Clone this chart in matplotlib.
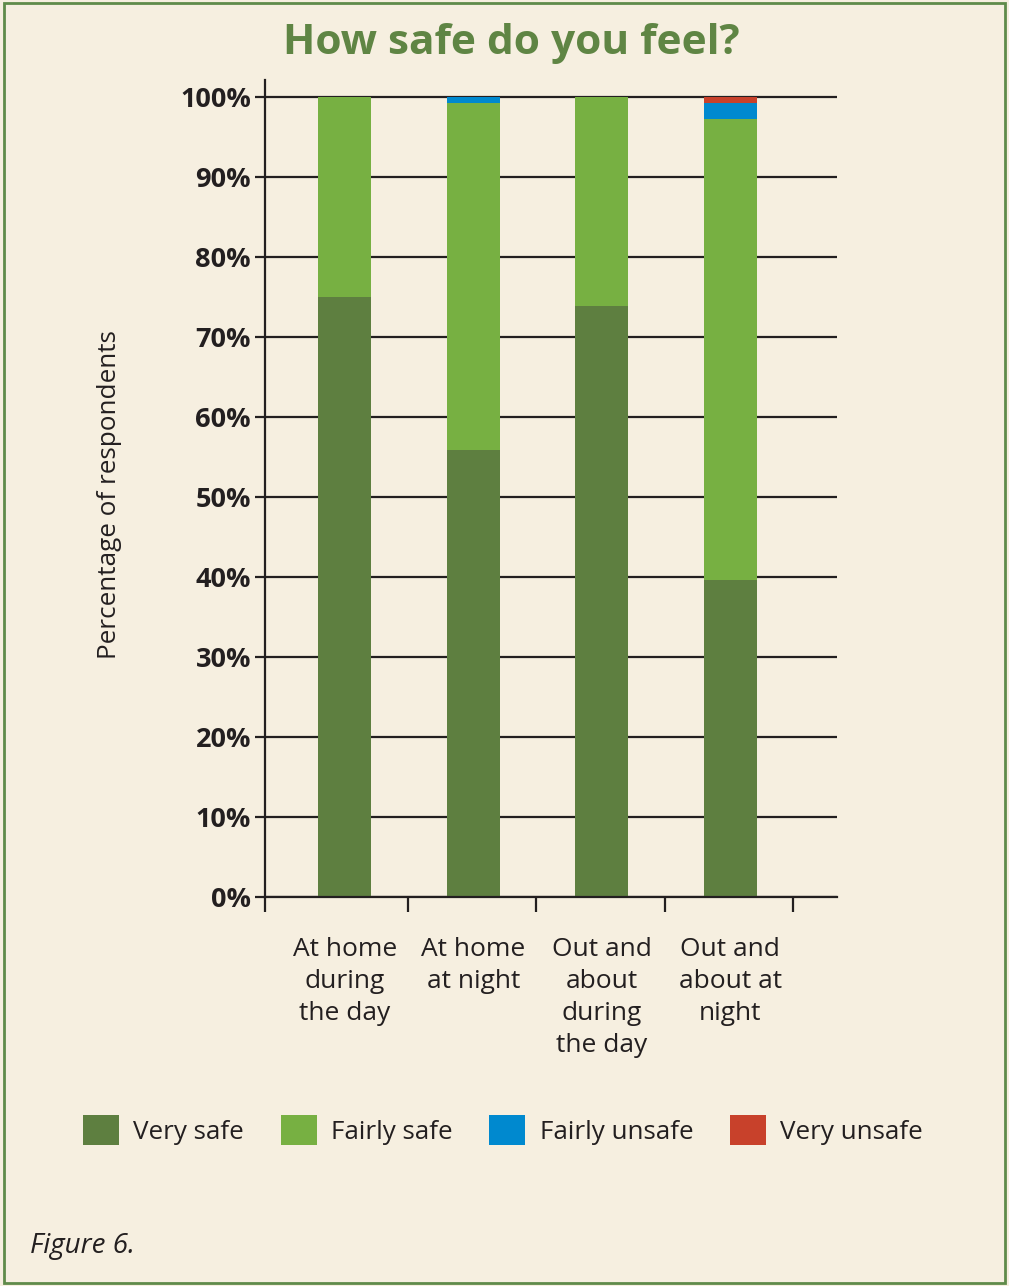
import numpy as np
import matplotlib
matplotlib.use('Agg')
from matplotlib import pyplot as plt
from matplotlib.patches import Rectangle

plt.rcParams['font.family'] = ['Open Sans', 'DejaVu Sans']

# data (percent of respondents)
categories = ['At home\nduring\nthe day', 'At home\nat night',
              'Out and\nabout\nduring\nthe day', 'Out and\nabout at\nnight']
series_names = ['Very safe', 'Fairly safe', 'Fairly unsafe', 'Very unsafe']
very_safe = [75.0, 55.8, 73.8, 39.6]
fairly_safe = [25.0, 43.4, 26.2, 57.6]
fairly_unsafe = [0.0, 0.8, 0.0, 2.0]
very_unsafe = [0.0, 0.0, 0.0, 0.8]
yticks = [0, 10, 20, 30, 40, 50, 60, 70, 80, 90, 100]

colors = ['#5e7f40', '#77b042', '#0089cf', '#c8412b']
bg = '#f6efe0'
ink = '#231f20'

fig = plt.figure(figsize=(10.09, 12.86), dpi=100, facecolor=bg)
fig.patches.append(Rectangle((0.004, 0.002), 0.992, 0.996, transform=fig.transFigure,
                             fill=False, edgecolor='#5f8b4a', linewidth=2))

ax = fig.add_axes([265/1009, 1-897/1286, 572/1009, 817/1286])
ax.set_facecolor(bg)

x = np.arange(len(categories))
bottom = np.zeros(len(categories))
bars = []
for name, vals, c in zip(series_names, [very_safe, fairly_safe, fairly_unsafe, very_unsafe], colors):
    b = ax.bar(x, vals, width=0.41, bottom=bottom, color=c, label=name, zorder=2)
    bars.append(b)
    bottom += np.array(vals)

ax.set_xlim(-0.62, 3.83)
ax.set_ylim(0, 102.1)
ax.set_axisbelow(True)

ax.set_yticks(yticks)
ax.set_yticklabels([f'{v}%' for v in yticks], fontweight='bold', fontsize=19.5, color=ink)
ax.yaxis.grid(True, color=ink, linewidth=1.6, zorder=0)
ax.tick_params(axis='y', length=7, width=1.6, color=ink, pad=3)

# boundary ticks on x, labels at the bar centres
ax.set_xticks([-0.62, 0.49, 1.49, 2.49, 3.49])
ax.set_xticklabels([])
ax.tick_params(axis='x', which='major', length=11, width=1.6, color=ink)
ax.set_xticks(x, minor=True)
ax.set_xticklabels(categories, minor=True, fontsize=19, color=ink, linespacing=1.36)
ax.tick_params(axis='x', which='minor', length=0, pad=29)

for s in ['top', 'right']:
    ax.spines[s].set_visible(False)
for s in ['left', 'bottom']:
    ax.spines[s].set_color(ink)
    ax.spines[s].set_linewidth(1.6)

ax.set_ylabel('Percentage of respondents', fontsize=18.8, color=ink)
ax.yaxis.set_label_coords(-0.25, 0.492)

fig.text(511/1009, 1-44/1286, 'How safe do you feel?', ha='center', va='center',
         fontsize=30.5, fontweight='bold', color='#5f8544')

fig.legend(handles=bars, labels=series_names, loc='center', bbox_to_anchor=(503/1009, 1-1130/1286),
           ncol=4, frameon=False, fontsize=18.7, handlelength=1.38, handleheight=1.38,
           handletextpad=0.55, columnspacing=1.42, labelcolor=ink)

fig.text(30/1009, 1-1246/1286, 'Figure 6.', ha='left', va='center', fontsize=20,
         style='italic', color=ink)

fig.savefig('out.png', dpi=100, facecolor=bg)
